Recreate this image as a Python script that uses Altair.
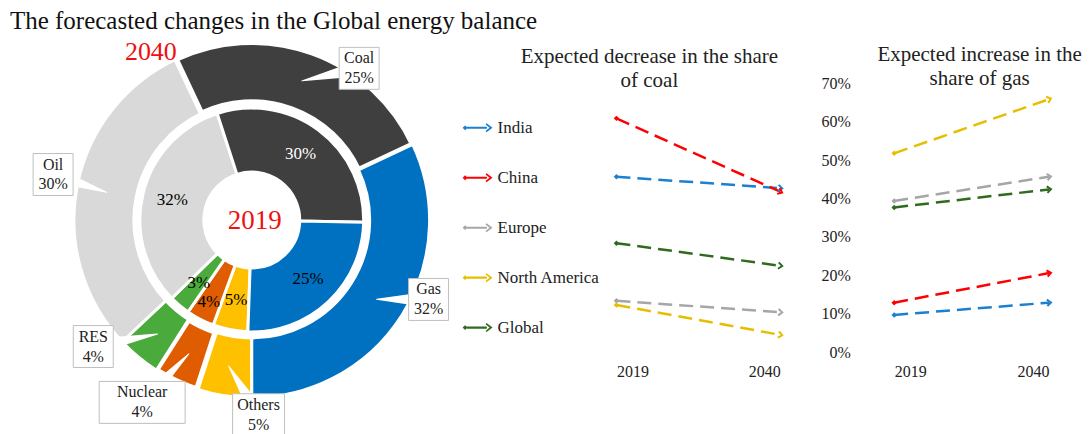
import math
import altair as alt
import pandas as pd

# ---------------- data ----------------
FUELS = ["Others", "Nuclear", "RES", "Oil", "Coal", "Gas"]
FUEL_COLORS = ["#FFC000", "#E05C00", "#4AAA3C", "#D9D9D9", "#3F3F3F", "#0070C0"]
SHARE_2019 = [5, 4, 3, 32, 30, 25]
SHARE_2040 = [5, 4, 4, 30, 25, 32]

REGIONS = ["India", "China", "Europe", "North America", "Global"]
REGION_COLORS = ["#1B80D0", "#FF0000", "#A6A6A6", "#E6BE00", "#2E6B1E"]
YEARS = [2019, 2040]
COAL_2019 = [0.457, 0.609, 0.134, 0.123, 0.284]
COAL_2040 = [0.427, 0.418, 0.104, 0.045, 0.225]
GAS_2019 = [0.097, 0.129, 0.394, 0.518, 0.377]
GAS_2040 = [0.129, 0.206, 0.457, 0.659, 0.424]
GAS_TICKS = [0, 0.1, 0.2, 0.3, 0.4, 0.5, 0.6, 0.7]

TITLE = "The forecasted changes in the Global energy balance"
COAL_TITLE = "Expected decrease in the share\nof coal"
GAS_TITLE = "Expected increase in the\nshare of gas"

# ---------------- layout / style ----------------
W, H = 1074, 426
FONT = "Liberation Serif"
TXT = "#222222"
CX, CY = 244, 212
R_HOLE, R_IN, R_OUT_IN, R_OUT = 48, 112, 118, 178
START_2019, START_2040 = 182, 180
COAL_X_RANGE = [609, 773]
GAS_X_RANGE = [887, 1042]
Y_RANGE = [344.3, 75.3]
Y_DOMAIN = [0, 0.7]
LEGEND_Y_RANGE = [119.7, 319.7]
# callout placement: angle nudge (deg), radius, box width
CALLOUT = {
    "Coal": (15.5, 186, 40), "Gas": (-8.2, 194, 40), "Oil": (2.1, 204, 40),
    "RES": (11.8, 203, 40), "Nuclear": (5.8, 213, 86), "Others": (-11, 195, 52),
}
EXPLODED = "datum.fuel == 'Coal' || datum.fuel == 'Nuclear'"
BOX_H = 42
TIP_R = 148
LINE_H = 20


def rad(d):
    return d * math.pi / 180


# ---------------- donut ----------------
def ring_df(shares):
    return pd.DataFrame({"fuel": FUELS, "share": shares, "ord": list(range(len(FUELS))),
                         "lbl": [f"{s}%" for s in shares]})


fuel_color = alt.Color("fuel:N", scale=alt.Scale(domain=FUELS, range=FUEL_COLORS), legend=None)


def ring(df, start, r0, r1, with_labels, stroke_w):
    theta = alt.Theta("share:Q", stack="normalize",
                      scale=alt.Scale(domain=[0, 1], range=[rad(start), rad(start) + 2 * math.pi]))
    base = alt.Chart(df).encode(theta=theta, order=alt.Order("ord:Q"))
    arcs = base.mark_arc(innerRadius=r0, outerRadius=r1, stroke="white").encode(
        color=fuel_color, x=alt.value(CX), y=alt.value(CY), strokeWidth=stroke_w)
    if not with_labels:
        return arcs
    txt_col = alt.condition("datum.fuel == 'Coal'", alt.value("white"), alt.value("black"))
    txt = base.mark_text(radius=82, font=FONT, fontSize=17).encode(
        text="lbl:N", x=alt.value(CX), y=alt.value(CY), color=txt_col,
        opacity=alt.condition("datum.fuel == 'Nuclear'", alt.value(0), alt.value(1)))
    txt_nuc = base.mark_text(radius=93, font=FONT, fontSize=17).encode(
        text="lbl:N", x=alt.value(CX), y=alt.value(CY), color=alt.value("black"),
        opacity=alt.condition("datum.fuel == 'Nuclear'", alt.value(1), alt.value(0)))
    return alt.layer(arcs, txt, txt_nuc)


inner = ring(ring_df(SHARE_2019), START_2019, R_HOLE, R_IN, True, alt.value(3))
outer = ring(ring_df(SHARE_2040), START_2040, R_OUT_IN, R_OUT, False,
             alt.condition(EXPLODED, alt.value(5.5), alt.value(3)))

# callouts for the 2040 ring (positions derived from slice mid-angles)
tot = sum(SHARE_2040)
cum = 0
box_rows, ptr_rows = [], []
for f, v in zip(FUELS, SHARE_2040):
    mid = START_2040 + 360 * (cum + v / 2) / tot
    cum += v
    nudge, rr, bw = CALLOUT[f]
    a = rad(mid + nudge)
    bx, by = CX + rr * math.sin(a), CY - rr * math.cos(a)
    tx, ty = CX + TIP_R * math.sin(rad(mid)), CY - TIP_R * math.cos(rad(mid))
    box_rows.append({"fuel": f, "lbl": f"{f}\n{v}%", "bx": bx, "ty": by - LINE_H / 2,
                     "x1": bx - bw / 2, "x2": bx + bw / 2, "y1": by - BOX_H / 2, "y2": by + BOX_H / 2})
    ptr_rows.append({"fuel": f, "seq": 0, "px": tx, "py": ty, "w": 0})
    ptr_rows.append({"fuel": f, "seq": 1, "px": bx, "py": by, "w": 16})
boxes = pd.DataFrame(box_rows)
ptrs = pd.DataFrame(ptr_rows)

pointer = alt.Chart(ptrs).mark_trail(color="white").encode(
    x=alt.X("px:Q", scale=None, axis=None), y=alt.Y("py:Q", scale=None, axis=None),
    size=alt.Size("w:Q", scale=None, legend=None), detail="fuel:N", order="seq:Q")
box = alt.Chart(boxes).mark_rect(fill="white", stroke="#BFBFBF", strokeWidth=1).encode(
    x=alt.X("x1:Q", scale=None, axis=None), x2="x2:Q",
    y=alt.Y("y1:Q", scale=None, axis=None), y2="y2:Q")
box_txt = alt.Chart(boxes).mark_text(font=FONT, fontSize=16, lineBreak="\n", lineHeight=LINE_H,
                                     baseline="middle", color=TXT).encode(
    x=alt.X("bx:Q", scale=None, axis=None), y=alt.Y("ty:Q", scale=None, axis=None), text="lbl:N")
callouts = alt.layer(pointer, box, box_txt)

one = alt.Data(values=[{}])
year19 = alt.Chart(one).mark_text(text="2019", font=FONT, fontSize=27, color="#EE1111").encode(
    x=alt.value(CX + 3), y=alt.value(CY + 1))
year40 = alt.Chart(one).mark_text(text="2040", font=FONT, fontSize=26, color="#EE1111").encode(
    x=alt.value(143), y=alt.value(44))
main_title = alt.Chart(one).mark_text(text=TITLE, font=FONT, fontSize=25, align="left",
                                      baseline="alphabetic", color="#111111").encode(
    x=alt.value(2), y=alt.value(21))

# ---------------- slope charts ----------------
ARROW_SYMBOL = ("M-1,0L-0.83,-0.16L-0.66,0L-0.83,0.16Z"
                "M-0.7,-0.07L0.62,-0.07L0.62,0.07L-0.7,0.07Z"
                "M0.6,-0.3L1,0L0.6,0.3L0.53,0.22L0.8,0L0.53,-0.22Z")
CHEVRON = "M-0.6,-1L0.6,0L-0.6,1"
region_color = alt.Color("region:N", scale=alt.Scale(domain=REGIONS, range=REGION_COLORS),
                         legend=None)


def slope_df(v19, v40, xr):
    rows = []
    px_per_unit = (Y_RANGE[0] - Y_RANGE[1]) / (Y_DOMAIN[1] - Y_DOMAIN[0])
    dx = xr[1] - xr[0]
    for r, a, b in zip(REGIONS, v19, v40):
        ang = math.degrees(math.atan2((a - b) * px_per_unit, dx))
        rows.append({"region": r, "year": 2019, "value": a, "ang": ang})
        rows.append({"region": r, "year": 2040, "value": b, "ang": ang})
    return pd.DataFrame(rows)


def slope(df, xr, y_axis):
    x = alt.X("year:Q", scale=alt.Scale(domain=[2019, 2040], range=xr, nice=False, zero=False),
              axis=alt.Axis(values=YEARS, format="d", orient="bottom", offset=-72, ticks=False,
                            tickSize=0, domain=False, grid=False, labelFont=FONT, labelFontSize=16,
                            labelColor=TXT, labelPadding=2, title=None))
    y = alt.Y("value:Q", scale=alt.Scale(domain=Y_DOMAIN, range=Y_RANGE, nice=False, zero=False),
              axis=y_axis)
    base = alt.Chart(df).encode(x=x, y=y, color=region_color)
    lines = base.mark_line(strokeDash=[14, 7], strokeWidth=2.5)
    starts = base.mark_point(shape="diamond", filled=True, size=30, opacity=1).transform_filter(
        "datum.year == 2019")
    ends = base.mark_point(shape=CHEVRON, filled=False, size=42, strokeWidth=2, opacity=1).encode(
        angle=alt.Angle("ang:Q", scale=None)).transform_filter("datum.year == 2040")
    return alt.layer(lines, starts, ends)


gas_axis = alt.Axis(values=GAS_TICKS, format=".0%", orient="left", offset=-845, ticks=False,
                    tickSize=0, domain=False, grid=False, labelFont=FONT, labelFontSize=16,
                    labelColor=TXT, labelPadding=2, title=None)

coal = slope(slope_df(COAL_2019, COAL_2040, COAL_X_RANGE), COAL_X_RANGE, None)
gas = slope(slope_df(GAS_2019, GAS_2040, GAS_X_RANGE), GAS_X_RANGE, gas_axis)

# legend drawn from the region list
leg_df = pd.DataFrame({"region": REGIONS})
leg_y = alt.Y("region:N", scale=alt.Scale(domain=REGIONS, range=LEGEND_Y_RANGE, type="point",
                                          padding=0), axis=None)
leg_sym = alt.Chart(leg_df).mark_point(shape=ARROW_SYMBOL, filled=True, size=900, opacity=1,
                                       strokeWidth=0).encode(
    y=leg_y, x=alt.value(470), color=region_color)
leg_txt = alt.Chart(leg_df).mark_text(font=FONT, fontSize=17, align="left", baseline="middle",
                                      color=TXT).encode(
    y=leg_y, x=alt.value(490), text="region:N")
legend_layer = alt.layer(leg_sym, leg_txt)

coal_title = alt.Chart(one).mark_text(text=COAL_TITLE, font=FONT, fontSize=21, lineBreak="\n",
                                      lineHeight=24, baseline="middle", color=TXT).encode(
    x=alt.value(642), y=alt.value(48.7))
gas_title = alt.Chart(one).mark_text(text=GAS_TITLE, font=FONT, fontSize=21, lineBreak="\n",
                                     lineHeight=24, baseline="middle", color=TXT).encode(
    x=alt.value(972.5), y=alt.value(47))

chart = alt.layer(
    outer, inner, callouts, year19, year40, main_title, coal, gas, legend_layer,
    coal_title, gas_title
).resolve_scale(
    x="independent", y="independent", color="independent", theta="independent",
    size="independent", opacity="independent", strokeWidth="independent"
).resolve_axis(x="independent", y="independent").properties(
    width=W, height=H, padding=0, background="white"
).configure_view(stroke=None)

chart.save("out.html", embed_options={"renderer": "svg", "actions": False})
